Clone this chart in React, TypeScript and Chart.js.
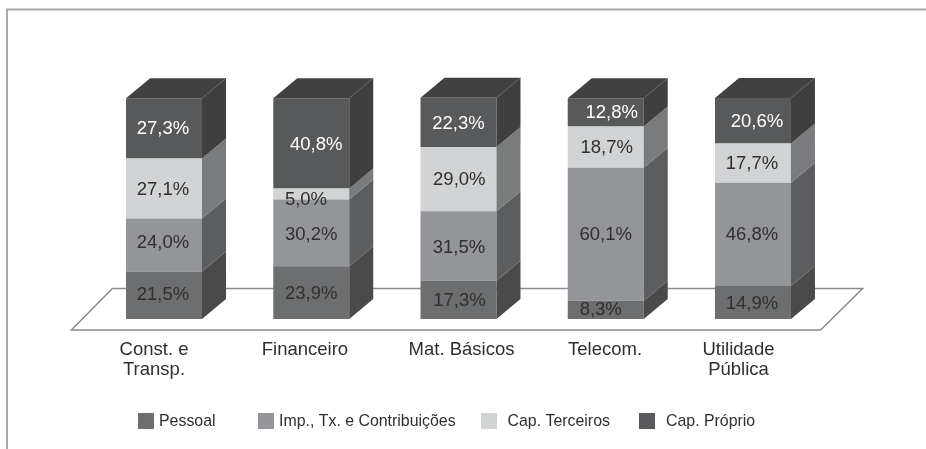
import React, { useEffect, useRef } from "react";
import { Chart, registerables } from "chart.js";

Chart.register(...registerables);

const categories = [["Const. e", "Transp."], "Financeiro", "Mat. Básicos", "Telecom.", ["Utilidade", "Pública"]];
const pessoal = [21.5, 23.9, 17.3, 8.3, 14.9];
const impostos = [24.0, 30.2, 31.5, 60.1, 46.8];
const terceiros = [27.1, 5.0, 29.0, 18.7, 17.7];
const proprio = [27.3, 40.8, 22.3, 12.8, 20.6];

const FONT = "'Liberation Sans', Arial, sans-serif";
const TEXT = "#2f2f2f";
const sideColors = ["#4a4a4b", "#5c5d5f", "#7a7b7c", "#3f3f40"];
const labelColors = [TEXT, TEXT, TEXT, "#ffffff"];
const legendMarkerX = [138, 258, 481, 639];
const legendTextX = [159, 279, 507.5, 666];
const tickShift = [-10, -6.3, 3, -0.7, -14.5];
const labelDx = [
  [-1, 0, 1, -5, -1],
  [-1, 0, 0.5, 0, -1],
  [-1, -5.3, 0.8, 1, -1],
  [-1, 5, 0, 6, 4],
];
const labelDy = [
  [-1, 0, 0, -1, 0],
  [-3, 1, 1, 0, 0],
  [0, 5, 0, 0, 0],
  [0, 1, 0, 0, 0],
];

const decor = {
  id: "decor",
  beforeDraw(chart: any) {
    const scale = chart.scales.x;
    const items = scale._computeLabelItems(chart.chartArea);
    items.forEach((it: any, i: number) => {
      it.options = { ...it.options, translation: [it.options.translation[0] + tickShift[i], it.options.translation[1]] };
    });
    scale._labelItems = items;
  },
  beforeDatasetsDraw(chart: any) {
    const { ctx, chartArea: a } = chart;
    ctx.save();
    ctx.strokeStyle = "#a8a9ab";
    ctx.lineWidth = 2;
    ctx.beginPath();
    ctx.moveTo(7, 449);
    ctx.lineTo(7, 9.5);
    ctx.lineTo(926, 9.5);
    ctx.stroke();
    const bottom = a.bottom;
    ctx.strokeStyle = "#8a8b8d";
    ctx.lineWidth = 1.5;
    ctx.beginPath();
    ctx.moveTo(a.left - 19, bottom + 11);
    ctx.lineTo(a.right - 6, bottom + 11);
    ctx.lineTo(a.right + 36, bottom - 30.5);
    ctx.lineTo(a.left + 22, bottom - 30.5);
    ctx.closePath();
    ctx.stroke();
    ctx.restore();
  },
};

const depthX = 24;
const depthY = 20;

const bars3d = {
  id: "bars3d",
  afterDatasetsDraw(chart: any) {
    const { ctx } = chart;
    const last = chart.data.datasets.length - 1;
    ctx.save();
    chart.data.datasets.forEach((ds: any, di: number) => {
      chart.getDatasetMeta(di).data.forEach((bar: any) => {
        const x2 = bar.x + bar.width / 2;
        const x1 = bar.x - bar.width / 2;
        ctx.fillStyle = sideColors[di];
        ctx.beginPath();
        ctx.moveTo(x2, bar.y);
        ctx.lineTo(x2 + depthX, bar.y - depthY);
        ctx.lineTo(x2 + depthX, bar.base - depthY);
        ctx.lineTo(x2, bar.base);
        ctx.closePath();
        ctx.fill();
        if (di === last) {
          ctx.fillStyle = "#414142";
          ctx.beginPath();
          ctx.moveTo(x1, bar.y);
          ctx.lineTo(x1 + depthX, bar.y - depthY);
          ctx.lineTo(x2 + depthX, bar.y - depthY);
          ctx.lineTo(x2, bar.y);
          ctx.closePath();
          ctx.fill();
          ctx.strokeStyle = "#5e5f60";
          ctx.lineWidth = 0.7;
          ctx.beginPath();
          ctx.moveTo(x2, bar.y);
          ctx.lineTo(x2 + depthX, bar.y - depthY);
          ctx.stroke();
        }
      });
    });
    ctx.font = `18.5px ${FONT}`;
    ctx.textAlign = "center";
    ctx.textBaseline = "middle";
    chart.data.datasets.forEach((ds: any, di: number) => {
      chart.getDatasetMeta(di).data.forEach((bar: any, i: number) => {
        ctx.fillStyle = labelColors[di];
        const text = ds.data[i].toFixed(1).replace(".", ",") + "%";
        ctx.fillText(text, bar.x + labelDx[di][i], (bar.y + bar.base) / 2 + 1 + labelDy[di][i]);
      });
    });
    ctx.font = `15.9px ${FONT}`;
    ctx.textAlign = "left";
    chart.data.datasets.forEach((ds: any, di: number) => {
      ctx.fillStyle = ds.backgroundColor;
      ctx.fillRect(legendMarkerX[di], 413, 16, 16);
      ctx.fillStyle = TEXT;
      ctx.fillText(ds.label, legendTextX[di], 422);
    });
    ctx.restore();
  },
};

export default function App() {
  const ref = useRef<HTMLCanvasElement>(null);
  useEffect(() => {
    const chart = new Chart(ref.current!, {
      type: "bar",
      data: {
        labels: categories as any,
        datasets: [
          { label: "Pessoal", data: pessoal, backgroundColor: "#6d6e70" },
          { label: "Imp., Tx. e Contribuições", data: impostos, backgroundColor: "#939598" },
          { label: "Cap. Terceiros", data: terceiros, backgroundColor: "#d1d3d4" },
          { label: "Cap. Próprio", data: proprio, backgroundColor: "#58595b" },
        ],
      },
      options: {
        animation: false,
        responsive: false,
        layout: { padding: { left: 90.4, right: 99.4, top: 98, bottom: 0 } },
        plugins: { legend: { display: false }, tooltip: { enabled: false } },
        scales: {
          x: {
            stacked: true,
            grid: { display: false },
            border: { display: false },
            ticks: {
              color: TEXT,
              font: { family: FONT, size: 18.5, lineHeight: 1.08 },
              maxRotation: 0,
              autoSkip: false,
              padding: 13,
            },
            afterFit(s: any) { s.height = 130; },
          } as any,
          y: {
            stacked: true,
            display: false,
            min: 0,
            max: 100,
          },
        },
        datasets: { bar: { categoryPercentage: 1, barPercentage: 0.516 } },
      },
      plugins: [decor, bars3d],
    });
    return () => chart.destroy();
  }, []);
  return (
    <canvas
      ref={ref}
      width={926}
      height={449}
      style={{ position: "fixed", left: 0, top: 0, display: "block", background: "#fff" }}
    />
  );
}
